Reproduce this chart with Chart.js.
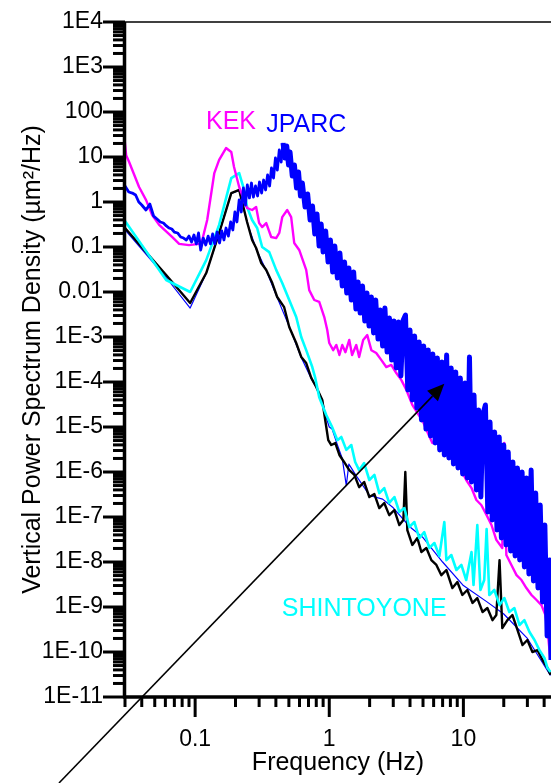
<!DOCTYPE html>
<html>
<head>
<meta charset="utf-8">
<script src="https://cdn.jsdelivr.net/npm/chart.js@4.4.0/dist/chart.umd.min.js"></script>
<style>
  html, body { margin: 0; padding: 0; background: #fff; overflow: hidden; }
  canvas { display: block; }
</style>
</head>
<body>
<canvas id="psdChart" width="551" height="783"></canvas>
<script>
// tick labels
var yDecades = [4, 3, 2, 1, 0, -1, -2, -3, -4, -5, -6, -7, -8, -9, -10, -11];
var yTickLabels = ['1E4', '1E3', '100', '10', '1', '0.1', '0.01', '1E-3', '1E-4', '1E-5', '1E-6', '1E-7', '1E-8', '1E-9', '1E-10', '1E-11'];
var xDecades = [-1, 0, 1];
var xTickLabels = ['0.1', '1', '10'];

// JPARC (blue)
var jparcFreq = [0.030, 0.032, 0.034, 0.036, 0.038, 0.040, 0.043, 0.046, 0.049, 0.052,
  0.055, 0.058, 0.061, 0.064, 0.067, 0.070, 0.074, 0.078, 0.082, 0.086,
  0.090, 0.094, 0.098, 0.102, 0.106, 0.110, 0.115, 0.120, 0.125, 0.130,
  0.135, 0.140, 0.146, 0.152, 0.158, 0.164, 0.170, 0.177, 0.184, 0.191,
  0.198, 0.205, 0.213, 0.221, 0.229, 0.237, 0.245, 0.254, 0.263, 0.272,
  0.282, 0.292, 0.302, 0.313, 0.324, 0.335, 0.347, 0.359, 0.371, 0.384,
  0.397, 0.410, 0.424, 0.438, 0.452, 0.467, 0.482, 0.497,
  0.51, 0.53, 0.55, 0.57, 0.59, 0.61, 0.63, 0.66, 0.69, 0.72,
  0.75, 0.78, 0.81, 0.84, 0.87, 0.90, 0.94, 0.98, 1.02, 1.06,
  1.10, 1.15, 1.20, 1.25, 1.30, 1.35, 1.40, 1.46, 1.52, 1.58,
  1.64, 1.70, 1.77, 1.84, 1.91, 1.98, 2.06, 2.14, 2.22, 2.31,
  2.40, 2.50, 2.60, 2.70, 2.81, 2.92, 3.04, 3.16, 3.29, 3.42,
  3.56, 3.70, 3.85, 4.00, 4.16, 4.33, 4.50, 4.68, 4.87, 5.06,
  5.26, 5.47, 5.69, 5.92, 6.16, 6.40, 6.66, 6.93, 7.21, 7.50,
  7.80, 8.11, 8.43, 8.77, 9.12, 9.49, 9.87, 10.3, 10.7, 11.1,
  11.5, 12.0, 12.5, 13.0, 13.5, 14.0, 14.6, 15.2, 15.8, 16.4,
  17.1, 17.8, 18.5, 19.2, 20.0, 20.8, 21.6, 22.5, 23.4, 24.3,
  25.3, 26.3, 27.4, 28.5, 29.6, 30.8, 32.0, 33.3, 34.6, 36.0,
  37.4, 38.9, 40.5, 42.1, 43.8, 45.0];
var jparcPsd = [2.27, 1.67, 1.58, 1.43, 1.0, 0.857, 0.664, 0.90, 0.489, 0.419,
  0.36, 0.341, 0.293, 0.264, 0.251, 0.215, 0.205, 0.167, 0.158, 0.143,
  0.175, 0.129, 0.185, 0.117, 0.205, 0.0857, 0.158, 0.111, 0.175, 0.117,
  0.195, 0.117, 0.215, 0.123, 0.227, 0.143, 0.264, 0.175, 0.36, 0.239,
  0.60, 0.36, 1.11, 0.60, 2.05, 0.857, 2.39, 1.23, 2.64, 1.29,
  2.27, 1.36, 2.78, 1.58, 3.08, 1.85, 3.98, 2.27, 5.7, 3.41,
  9.5, 5.14, 14.3, 7.74, 20.5, 9.5, 17.5, 6.64,
  12.9, 3.78, 6.64, 2.05, 4.64, 1.36, 2.64, 0.774, 1.51, 0.398,
  0.815, 0.195, 0.541, 0.105, 0.324, 0.0774, 0.227, 0.0464, 0.143, 0.0278,
  0.105, 0.0205, 0.0736, 0.0136, 0.0464, 9.5e-3, 0.0341, 6.64e-3, 0.0278, 4.19e-3,
  0.0167, 3.41e-3, 0.0136, 2.27e-3, 9.5e-3, 1.75e-3, 7.74e-3, 1.23e-3, 6.64e-3, 9.0e-4,
  3.98e-3, 6.31e-4, 4.41e-3, 4.64e-4, 2.64e-3, 3.08e-4, 2.27e-3, 2.05e-4, 2.15e-3, 1.36e-4,
  2.39e-3, 3.08e-3, 6.64e-5, 1.43e-3, 3.98e-5, 1.05e-3, 2.64e-5, 7.74e-4, 1.43e-5, 6.31e-4,
  9.0e-6, 5.14e-4, 6.31e-6, 4.19e-4, 4.41e-6, 3.41e-4, 3.08e-6, 2.78e-4, 2.39e-6, 3.98e-4,
  2.05e-6, 2.05e-4, 1.51e-6, 1.67e-4, 1.23e-6, 1.23e-4, 9.0e-7, 9.5e-5, 7.36e-7, 3.59e-4,
  6.0e-7, 5.14e-5, 3.98e-7, 2.39e-5, 2.78e-7, 1.95e-5, 3.08e-5, 1.29e-7, 1.29e-5, 8.57e-8,
  7.74e-6, 5.14e-8, 6.0e-6, 3.41e-8, 3.98e-6, 2.39e-8, 2.78e-6, 1.75e-8, 1.67e-6, 1.36e-8,
  1.23e-6, 1.11e-8, 1.0e-6, 7.74e-9, 7.36e-7, 5.41e-9, 1.11e-6, 3.79e-9, 3.41e-7, 2.64e-9,
  1.85e-7, 1.29e-9, 6.64e-8, 2.27e-10, 1.11e-8, 6.64e-11];

// KEK (magenta)
var kekFreq = [0.0295, 0.0306, 0.0322, 0.0382, 0.0431, 0.0478, 0.0539, 0.0673, 0.076, 0.090,
  0.107, 0.113, 0.123, 0.139, 0.151, 0.170, 0.186, 0.195, 0.213, 0.232,
  0.244, 0.266, 0.285, 0.300, 0.316, 0.339, 0.369, 0.402, 0.424, 0.446,
  0.486, 0.520, 0.548, 0.597, 0.673, 0.709, 0.773, 0.842, 0.918, 0.966,
  1.00, 1.07, 1.13, 1.19, 1.25, 1.32, 1.41, 1.48, 1.59, 1.67,
  1.79, 1.92, 2.06, 2.24, 2.44, 2.66, 2.90, 3.16, 3.45, 3.76,
  4.16, 4.54, 4.94, 5.39, 5.87, 6.62, 7.86, 8.87, 9.66, 10.5,
  11.5, 12.5, 13.6, 14.9, 16.2, 17.6, 19.5, 20.2, 20.9, 22.8,
  24.9, 27.1, 29.5, 32.2, 35.1, 38.2, 40.9, 43.1, 44.6];
var kekPsd = [32.4, 11, 7.74, 2.15, 1.1, 0.51, 0.31, 0.167, 0.117, 0.11,
  0.117, 0.143, 0.398, 4.4, 8.6, 15.8, 12.9, 6.0, 2.15, 1.1,
  0.736, 0.664, 0.774, 0.34, 0.278, 0.34, 0.167, 0.158, 0.205, 0.46,
  0.664, 0.46, 0.123, 0.086, 0.031, 0.011, 6.64e-3, 6.0e-3, 2.78e-3, 1.43e-3,
  7.36e-4, 5.1e-4, 6.64e-4, 3.98e-4, 6.64e-4, 4.6e-4, 8.6e-4, 3.98e-4, 6.64e-4, 3.6e-4,
  8.6e-4, 1.1e-3, 5.1e-4, 4.4e-4, 3.1e-4, 2.15e-4, 2.39e-4, 1.58e-4, 1.1e-4, 6.64e-5,
  3.1e-5, 2.05e-5, 1.43e-5, 7.74e-6, 4.4e-6, 5.0e-6, 2.9e-6, 1.58e-6, 1.1e-6, 6.64e-7,
  4.4e-7, 2.39e-7, 1.85e-7, 1.1e-7, 6.64e-8, 3.1e-8, 2.05e-8, 4.4e-6, 1.43e-8, 8.6e-9,
  5.1e-9, 3.98e-9, 2.64e-9, 1.85e-9, 1.43e-9, 1.1e-9, 6.64e-10, 1.85e-10, 6.64e-11];

// SHINTOYONE (cyan)
var shintoFreq = [0.030, 0.0608, 0.0918, 0.121, 0.151, 0.186, 0.213, 0.232, 0.244, 0.266,
  0.290, 0.316, 0.357, 0.402, 0.446, 0.503, 0.567, 0.618, 0.673, 0.747,
  0.786, 0.842, 0.950, 1.05, 1.15, 1.23, 1.34, 1.46, 1.56, 1.67,
  1.82, 1.99, 2.17, 2.36, 2.57, 2.80, 3.06, 3.33, 3.63, 3.95,
  4.31, 4.69, 5.11, 5.57, 6.08, 6.62, 7.21, 7.47, 8.13, 8.87,
  9.66, 10.5, 11.5, 11.9, 12.7, 13.4, 14.3, 14.9, 15.6, 17.0,
  18.6, 20.2, 22.0, 24.0, 26.2, 28.5, 31.1, 33.9, 36.9, 40.2,
  42.4, 44.6];
var shintoPsd = [0.378, 0.0185, 0.01, 0.051, 0.31, 3.4, 4.4, 1.85, 0.774, 0.398,
  0.264, 0.1, 0.077, 0.031, 0.0158, 6.64e-3, 2.78e-3, 1.0e-3, 5.1e-4, 2.15e-4,
  1.23e-4, 4.6e-5, 1.85e-5, 1.0e-5, 5.1e-6, 6.0e-6, 3.1e-6, 3.98e-6, 1.67e-6, 1.1e-6,
  1.58e-6, 6.64e-7, 8.6e-7, 3.4e-7, 4.4e-7, 2.05e-7, 2.78e-7, 1.29e-7, 1.58e-7, 6.0e-8,
  7.74e-8, 3.4e-8, 4.6e-8, 2.05e-8, 2.64e-8, 1.36e-8, 7.74e-8, 1.1e-8, 1.43e-8, 6.64e-9,
  8.6e-9, 3.98e-9, 1.67e-8, 3.1e-9, 6.64e-8, 2.39e-9, 3.98e-9, 5.4e-8, 1.85e-9, 2.39e-9,
  1.1e-9, 1.58e-9, 7.74e-10, 9.5e-10, 3.98e-10, 5.1e-10, 2.78e-10, 1.85e-10, 1.1e-10, 7.36e-11,
  4.4e-11, 3.6e-11];

// unlabelled site (black)
var blackFreq = [0.030, 0.0608, 0.0918, 0.121, 0.151, 0.186, 0.213, 0.244, 0.266, 0.285,
  0.311, 0.339, 0.376, 0.409, 0.461, 0.503, 0.567, 0.618, 0.673, 0.734,
  0.800, 0.887, 0.933, 0.983, 1.035, 1.11, 1.19, 1.29, 1.41, 1.54,
  1.67, 1.82, 1.99, 2.17, 2.36, 2.57, 2.80, 3.06, 3.33, 3.57,
  3.69, 3.82, 4.16, 4.54, 4.86, 5.30, 5.77, 6.29, 6.85, 7.47,
  8.28, 9.02, 9.83, 10.7, 11.7, 12.7, 13.9, 15.1, 16.5, 17.6,
  18.6, 19.5, 21.3, 23.2, 25.3, 27.6, 30.0, 32.7, 35.7, 38.9,
  42.4, 44.6];
var blackPsd = [0.264, 0.0239, 5.7e-3, 0.0264, 0.205, 1.58, 1.85, 0.359, 0.143, 0.095,
  0.0441, 0.0309, 0.0158, 7.74e-3, 4.6e-3, 1.67e-3, 7.36e-4, 3.6e-4, 2.64e-4, 1.23e-4,
  7.74e-5, 3.98e-5, 1.43e-5, 5.1e-6, 3.98e-6, 4.4e-6, 2.39e-6, 1.67e-6, 1.1e-6, 8.6e-7,
  4.6e-7, 6.0e-7, 2.78e-7, 3.24e-7, 1.58e-7, 2.05e-7, 1.1e-7, 1.43e-7, 6.64e-8, 8.6e-8,
  1.0e-6, 5.1e-8, 2.39e-8, 3.4e-8, 1.67e-8, 2.05e-8, 1.1e-8, 8.6e-9, 5.1e-9, 6.64e-9,
  2.64e-9, 3.6e-9, 1.85e-9, 2.39e-9, 1.23e-9, 1.58e-9, 7.74e-10, 9.5e-10, 5.1e-10, 6.64e-10,
  1.1e-8, 3.4e-10, 5.1e-10, 6.64e-10, 3.1e-10, 1.43e-10, 1.85e-10, 1.0e-10, 1.1e-10, 6.64e-11,
  4.4e-11, 3.1e-11];

// thin blue trace
var thinFreq = [0.030, 0.0608, 0.0918, 0.121, 0.151, 0.186, 0.213, 0.244, 0.285, 0.339,
  0.409, 0.503, 0.618, 0.734, 0.800, 0.887, 0.950, 1.00, 1.05, 1.15,
  1.25, 1.34, 1.40, 1.60, 2.0, 2.5, 3.0, 4.0, 5.0, 7.0,
  10.0, 15.0, 20.0, 30.0, 44.6];
var thinPsd = [0.24, 0.021, 4.4e-3, 0.026, 0.2, 1.55, 1.8, 0.35, 0.09, 0.03,
  7.5e-3, 1.7e-3, 3.5e-4, 1.2e-4, 7.5e-5, 4.0e-5, 1.6e-5, 1.0e-5, 9.0e-6, 4.0e-6,
  2.0e-6, 5.0e-7, 1.5e-6, 8.0e-7, 3.0e-7, 2.5e-7, 1.6e-7, 6.0e-8, 3.5e-8, 1.0e-8,
  3.0e-9, 1.3e-9, 7.0e-10, 2.0e-10, 3.0e-11];

var FONT = '"Liberation Sans", Arial, sans-serif';

function pairs(freq, psd) {
  var out = [];
  for (var i = 0, len = Math.min(freq.length, psd.length); i < len; i++) {
    out.push({x: freq[i], y: psd[i]});
  }
  return out;
}

function decadeOf(v) {
  var l = Math.log10(v), e = Math.round(l);
  return Math.abs(l - e) < 1e-6 ? e : null;
}

function wholeMantissa(v) {
  var m = v / Math.pow(10, Math.floor(Math.log10(v) + 1e-9));
  return Math.abs(m - Math.round(m)) < 1e-6;
}

function series(label, data, color, width) {
  return {
    label: label,
    data: data,
    borderColor: color,
    backgroundColor: color,
    borderWidth: width,
    pointRadius: 0,
    tension: 0,
    borderJoinStyle: 'round',
    fill: false
  };
}

// axes, tick marks, labels and arrow
var frame = {
  id: 'frame',
  afterDraw: function(chart) {
    var ctx = chart.ctx, a = chart.chartArea;
    var xs = chart.scales.x, ys = chart.scales.y;
    ctx.save();
    ctx.strokeStyle = '#000';
    ctx.lineCap = 'butt';

    ctx.lineWidth = 1.5;
    ctx.beginPath();
    ctx.moveTo(a.left, a.top);
    ctx.lineTo(a.right, a.top);
    ctx.stroke();

    ctx.lineWidth = 3.5;
    ctx.beginPath();
    ctx.moveTo(a.left - 0.5, a.top);
    ctx.lineTo(a.left - 0.5, a.bottom + 1.5);
    ctx.moveTo(a.left - 2, a.bottom);
    ctx.lineTo(a.right, a.bottom);
    ctx.stroke();

    ctx.lineWidth = 3;
    ys.ticks.forEach(function(t) {
      if (!wholeMantissa(t.value)) return;
      var p = ys.getPixelForValue(t.value);
      var len = decadeOf(t.value) !== null ? 22 : 12;
      ctx.beginPath();
      ctx.moveTo(a.left, p);
      ctx.lineTo(a.left - len, p);
      ctx.stroke();
    });
    xs.ticks.forEach(function(t) {
      if (!wholeMantissa(t.value)) return;
      var p = xs.getPixelForValue(t.value);
      var len = decadeOf(t.value) !== null ? 20 : 10;
      ctx.beginPath();
      ctx.moveTo(p, a.bottom);
      ctx.lineTo(p, a.bottom + len);
      ctx.stroke();
    });

    ctx.font = '25px ' + FONT;
    ctx.textAlign = 'center';
    ctx.textBaseline = 'middle';
    ctx.fillStyle = '#ff00ff';
    ctx.fillText('KEK', xs.getPixelForValue(0.185), ys.getPixelForValue(60));
    ctx.fillStyle = '#0000ff';
    ctx.fillText('JPARC', xs.getPixelForValue(0.674), ys.getPixelForValue(51));
    ctx.fillStyle = '#00ffff';
    ctx.fillText('SHINTOYONE', xs.getPixelForValue(1.82), ys.getPixelForValue(9.1e-10));

    // arrow
    var x0 = xs.getPixelForValue(0.00966), y0 = ys.getPixelForValue(1.23e-13);
    var x1 = xs.getPixelForValue(7.21), y1 = ys.getPixelForValue(9.1e-5);
    var ang = Math.atan2(y1 - y0, x1 - x0);
    var hl = 17, hw = 7.5;
    var bx = x1 - hl * Math.cos(ang), by = y1 - hl * Math.sin(ang);
    ctx.strokeStyle = '#000';
    ctx.lineWidth = 1.6;
    ctx.beginPath();
    ctx.moveTo(x0, y0);
    ctx.lineTo(bx, by);
    ctx.stroke();
    ctx.fillStyle = '#000';
    ctx.beginPath();
    ctx.moveTo(x1, y1);
    ctx.lineTo(bx + hw * Math.sin(ang), by - hw * Math.cos(ang));
    ctx.lineTo(bx - hw * Math.sin(ang), by + hw * Math.cos(ang));
    ctx.closePath();
    ctx.fill();
    ctx.restore();
  }
};

var jparcSet = series('JPARC', pairs(jparcFreq, jparcPsd), '#0000ff', 2.8);
// the dense high-frequency part is drawn as a solid noisy band
jparcSet.segment = {
  borderWidth: function(c) { return c.p0.parsed.x >= 0.45 ? 5 : 2.8; }
};

var ctx = document.getElementById('psdChart');
var psdChart = new Chart(ctx, {
  type: 'line',
  data: {
    datasets: [
      jparcSet,
      series('KEK', pairs(kekFreq, kekPsd), '#ff00ff', 2.4),
      series('SHINTOYONE', pairs(shintoFreq, shintoPsd), '#00ffff', 2.6),
      series('Site 4', pairs(blackFreq, blackPsd), '#000000', 2.4),
      series('Site 5', pairs(thinFreq, thinPsd), '#0000ff', 1.2)
    ]
  },
  options: {
    responsive: false,
    animation: false,
    devicePixelRatio: 1,
    layout: { padding: { top: 22, right: 0, bottom: 0, left: 0 } },
    plugins: {
      legend: { display: false },
      tooltip: { enabled: false }
    },
    scales: {
      x: {
        type: 'logarithmic',
        min: 0.03,
        max: 45,
        afterFit: function(s) {
          s.height = 86;
          s.paddingLeft = 0;
          s.paddingRight = 0;
        },
        grid: { display: false, drawTicks: false },
        border: { display: false },
        ticks: {
          autoSkip: false,
          maxRotation: 0,
          minRotation: 0,
          padding: 29,
          color: '#000',
          font: { family: FONT, size: 23 },
          callback: function(value) {
            var i = xDecades.indexOf(decadeOf(value));
            return i < 0 ? '' : xTickLabels[i];
          }
        },
        title: {
          display: true,
          text: 'Frequency (Hz)',
          color: '#000',
          font: { family: FONT, size: 25 },
          padding: { top: 0, bottom: 5 }
        }
      },
      y: {
        type: 'logarithmic',
        min: 1e-11,
        max: 1e4,
        afterFit: function(s) {
          s.width = 125;
          s.paddingTop = 0;
          s.paddingBottom = 0;
        },
        grid: { display: false, drawTicks: false },
        border: { display: false },
        ticks: {
          autoSkip: false,
          padding: 22,
          color: '#000',
          font: { family: FONT, size: 23 },
          callback: function(value) {
            var i = yDecades.indexOf(decadeOf(value));
            return i < 0 ? '' : yTickLabels[i];
          }
        },
        title: {
          display: true,
          text: 'Vertical Power Spectrum Density (\u00b5m\u00b2/Hz)',
          color: '#000',
          font: { family: FONT, size: 25 },
          padding: { top: 18, bottom: 0 }
        }
      }
    }
  },
  plugins: [frame]
});
</script>
</body>
</html>
